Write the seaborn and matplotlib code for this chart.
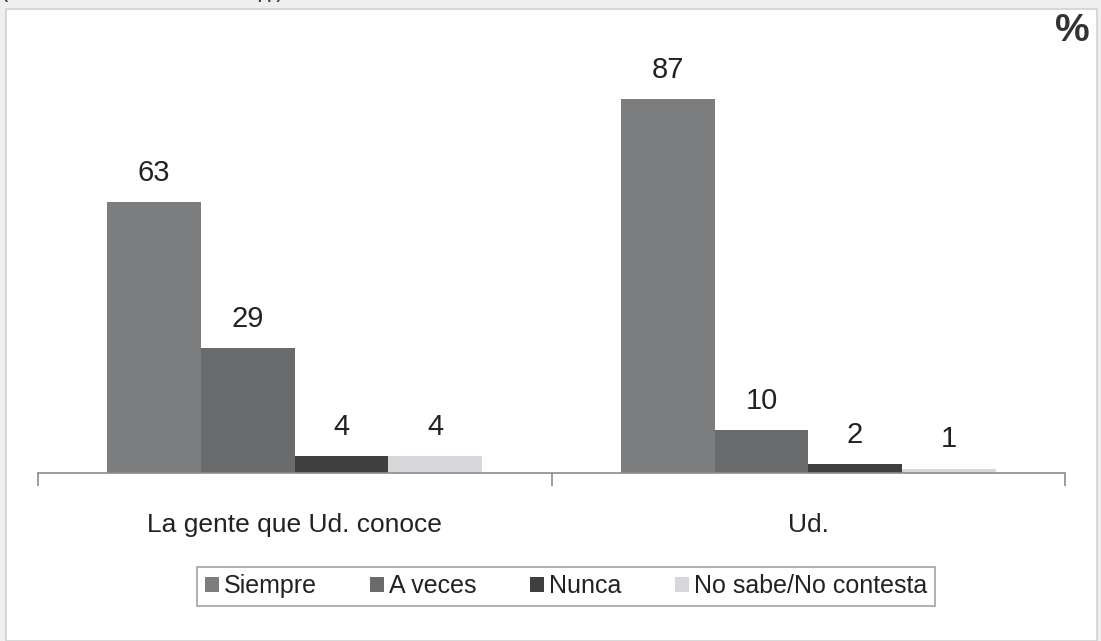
import numpy as np
import pandas as pd
import matplotlib
matplotlib.use("Agg")
import matplotlib.pyplot as plt
from matplotlib.patches import Rectangle
import seaborn as sns

categories = ["La gente que Ud. conoce", "Ud."]
responses = ["Siempre", "A veces", "Nunca", "No sabe/No contesta"]
siempre = [63, 87]
a_veces = [29, 10]
nunca = [4, 2]
no_sabe = [4, 1]
colors = ["#7b7d7f", "#6a6b6d", "#3f3f40", "#d7d7db"]

df = pd.DataFrame({
    "grupo": np.repeat(categories, len(responses)),
    "respuesta": responses * len(categories),
    "valor": [v for pair in zip(siempre, a_veces, nunca, no_sabe) for v in pair],
})

sns.set_theme(style="white")
plt.rcParams["font.family"] = ["Liberation Sans", "DejaVu Sans"]

fig = plt.figure(figsize=(11.01, 6.41), dpi=100, facecolor="#efefef")
# white panel behind the chart
fig.patches.append(Rectangle((6 / 1101, 0), 1091 / 1101, 1 - 9 / 641,
                             transform=fig.transFigure, facecolor="white",
                             edgecolor="#d2d2d2", linewidth=1.2, zorder=-5))
fig.text(0.003, 1.008, "(Submuestra: usuarios del WhatsApp)", fontsize=11,
         fontweight="bold", color="#444444", va="center", ha="left")
fig.text(0.99, 0.952, "%", fontsize=28, fontweight="bold", color="#333333",
         ha="right", va="center")

ax = fig.add_axes([38 / 1101, 1 - 473 / 641, (1065 - 38) / 1101, 430 / 641])
ax.set_facecolor("none")
sns.barplot(data=df, x="grupo", y="valor", hue="respuesta", order=categories,
            hue_order=responses, palette=colors, width=0.73, saturation=1,
            edgecolor="none", linewidth=0, ax=ax)

for container in ax.containers:
    ax.bar_label(container, fmt="%g", padding=11, fontsize=21, color="#222222")

ax.set_xlim(-0.5, 1.5)
ax.set_ylim(0, 100)
ax.set_yticks([])
ax.set_xlabel("")
ax.set_ylabel("")
for s in ["top", "right", "left"]:
    ax.spines[s].set_visible(False)
ax.spines["bottom"].set_color("#8c8c8c")
ax.spines["bottom"].set_linewidth(1.2)
ax.tick_params(axis="x", which="major", bottom=False, length=0, labelsize=19,
               pad=29, labelcolor="#222222")
ax.set_xticks([-0.5, 0.5, 1.5], minor=True)
ax.tick_params(axis="x", which="minor", bottom=True, length=9, width=1.2,
               color="#8c8c8c", direction="out")

leg = ax.legend(loc="center", bbox_to_anchor=(566 / 1101, 1 - 586 / 641),
                bbox_transform=fig.transFigure, ncol=4, fontsize=18,
                frameon=True, fancybox=False, edgecolor="#8a8a8a",
                handlelength=0.55, handleheight=0.55, handletextpad=0.2,
                columnspacing=2.15, borderpad=0.3, borderaxespad=0)
leg.get_frame().set_linewidth(1.2)
for t in leg.get_texts():
    t.set_color("#222222")

fig.savefig("out.png", dpi=100, facecolor=fig.get_facecolor())
